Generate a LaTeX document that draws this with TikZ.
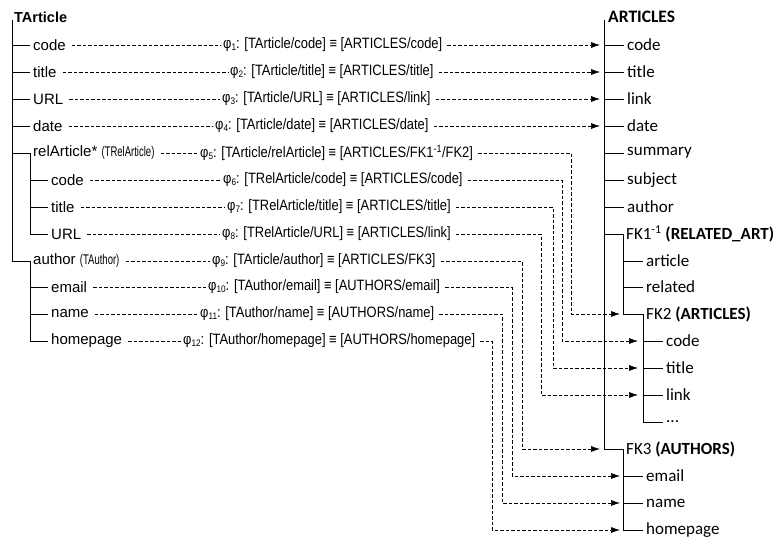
\documentclass[tikz,border=0pt]{standalone}
\usepackage{fontspec}
\setmainfont{Liberation Sans}
\newfontfamily\narrowf[FakeStretch=0.86]{Liberation Sans}
\newfontfamily\parenf[FakeStretch=0.68]{Liberation Sans}
\newfontfamily\calf{Carlito}
\usetikzlibrary{arrows.meta}
\newcommand\phisub[1]{φ{\fontsize{9.5}{9.5}\selectfont\raisebox{-1.5pt}{#1}}:}
\newcommand\paren[1]{{\parenf\fontsize{14}{16}\selectfont #1}}
\begin{document}
\begin{tikzpicture}[x=1pt,y=-1pt,
  tree/.style={line width=0.8pt},
  lab/.style={anchor=west,inner sep=3pt,font=\fontsize{15}{17}\selectfont},
  hdr/.style={anchor=west,inner sep=1pt,font=\bfseries\fontsize{14.5}{16}\selectfont},
  mid/.style={anchor=west,inner sep=2pt,font=\narrowf\fontsize{15}{17}\selectfont},
  rlab/.style={anchor=west,inner sep=3pt,font=\calf\fontsize{17}{19}\selectfont},
  rhdr/.style={anchor=west,inner sep=1pt,font=\calf\bfseries\fontsize{17.5}{19}\selectfont},
  dline/.style={dash pattern=on 3.5pt off 2pt, line width=0.6pt},
  link/.style={dline, -{Latex[length=9pt,width=6pt]}},
]
\useasboundingbox (0,0) rectangle (780,543);

% ---------- left tree ----------
\node[hdr] (ta) at (13,17) {TArticle};
\node[lab] (l1) at (30,45) {code};
\node[lab] (l2) at (30,72) {title};
\node[lab] (l3) at (30,99) {URL};
\node[lab] (l4) at (30,126) {date};
\node[lab] (l5) at (30,153) {relArticle* \paren{(TRelArticle)}};
\node[lab] (l6) at (48,180) {code};
\node[lab] (l7) at (48,207) {title};
\node[lab] (l8) at (48,234) {URL};
\node[lab] (l9) at (30,261) {author \paren{(TAuthor)}};
\node[lab] (l10) at (48,287) {email};
\node[lab] (l11) at (48,314) {name};
\node[lab] (l12) at (48,341) {homepage};

\coordinate (lt) at (12,20);
\draw[tree] (lt) |- (l9.west) -- (l9.west |- l12) -- (l12.west);
\foreach \i in {1,2,3,4,5} \draw[tree] (lt |- l\i) -- (l\i.west);
\draw[tree] (l5.west) -- (l5.west |- l8) -- (l8.west);
\foreach \i in {6,7} \draw[tree] (l5.west |- l\i) -- (l\i.west);
\foreach \i in {10,11} \draw[tree] (l9.west |- l\i) -- (l\i.west);

% ---------- mapping labels ----------
\node[mid] (m1) at (221,45) {\phisub{1} [TArticle/code] ≡ [ARTICLES/code]};
\node[mid] (m2) at (228,72) {\phisub{2} [TArticle/title] ≡ [ARTICLES/title]};
\node[mid] (m3) at (220,99) {\phisub{3} [TArticle/URL] ≡ [ARTICLES/link]};
\node[mid] (m4) at (213,126) {\phisub{4} [TArticle/date] ≡ [ARTICLES/date]};
\node[mid] (m5) at (198,153) {\phisub{5} [TArticle/relArticle] ≡ [ARTICLES/FK1\textsuperscript{-1}/FK2]};
\node[mid] (m6) at (221,180) {\phisub{6} [TRelArticle/code] ≡ [ARTICLES/code]};
\node[mid] (m7) at (225,207) {\phisub{7} [TRelArticle/title] ≡ [ARTICLES/title]};
\node[mid] (m8) at (220,234) {\phisub{8} [TRelArticle/URL] ≡ [ARTICLES/link]};
\node[mid] (m9) at (210,261) {\phisub{9} [TArticle/author] ≡ [ARTICLES/FK3]};
\node[mid] (m10) at (206,287) {\phisub{10} [TAuthor/email] ≡ [AUTHORS/email]};
\node[mid] (m11) at (198,314) {\phisub{11} [TAuthor/name] ≡ [AUTHORS/name]};
\node[mid] (m12) at (181,341) {\phisub{12} [TAuthor/homepage] ≡ [AUTHORS/homepage]};

\foreach \i in {1,...,12} \draw[dline, shorten <=3pt] (l\i.east) -- (m\i.west);

% ---------- right tree ----------
\node[rhdr] (ar) at (607,17) {ARTICLES};
\node[rlab] (r1) at (624,45) {code};
\node[rlab] (r2) at (624,72) {title};
\node[rlab] (r3) at (624,99) {link};
\node[rlab] (r4) at (624,126) {date};
\node[rlab] (r5) at (624,153) {summary};
\node[rlab] (r6) at (624,180) {subject};
\node[rlab] (r7) at (624,207) {author};
\node[rlab] (fk1) at (623,234) {FK1\textsuperscript{-1} \textbf{(RELATED\_ART)}};
\node[rlab] (r9) at (643,261) {article};
\node[rlab] (r10) at (643,287) {related};
\node[rlab] (fk2) at (643,314) {FK2 \textbf{(ARTICLES)}};
\node[rlab] (c1) at (663,341) {code};
\node[rlab] (c2) at (663,368) {title};
\node[rlab] (c3) at (663,395) {link};
\node[rlab] (c4) at (663,422) {...};
\node[rlab] (fk3) at (623,449) {FK3 \textbf{(AUTHORS)}};
\node[rlab] (a1) at (643,476) {email};
\node[rlab] (a2) at (643,503) {name};
\node[rlab] (a3) at (643,530) {homepage};

\coordinate (rt) at (604,20);
\coordinate (v1) at (623,0);
\coordinate (v2) at (643,0);
\draw[tree] (rt) |- (fk3.west) -- (fk3.west |- a3) -- (a3.west);
\foreach \n in {r1,r2,r3,r4,r5,r6,r7} \draw[tree] (rt |- \n) -- (\n.west);
\draw[tree] (rt |- fk1) -- (v1 |- fk1) -- (v1 |- fk2) -- (fk2.west);
\foreach \n in {r9,r10} \draw[tree] (v1 |- \n) -- (\n.west);
\draw[tree] (v1 |- fk2) -- (v2 |- fk2) -- (v2 |- c4) -- (c4.west);
\foreach \n in {c1,c2,c3} \draw[tree] (v2 |- \n) -- (\n.west);
\foreach \n in {a1,a2} \draw[tree] (v1 |- \n) -- (\n.west);

% ---------- mapping arrows ----------
\coordinate (k5) at (571,0);
\coordinate (k6) at (562,0);
\coordinate (k7) at (553,0);
\coordinate (k8) at (541,0);
\coordinate (k9) at (522,0);
\coordinate (k10) at (512,0);
\coordinate (k11) at (502,0);
\coordinate (k12) at (492,0);

\draw[link, shorten <=3pt, shorten >=4pt] (m1.east) -- (rt |- r1);
\draw[link, shorten <=3pt, shorten >=4pt] (m2.east) -- (rt |- r2);
\draw[link, shorten <=3pt, shorten >=4pt] (m3.east) -- (rt |- r3);
\draw[link, shorten <=3pt, shorten >=4pt] (m4.east) -- (rt |- r4);
\draw[link, shorten <=3pt, shorten >=3pt] (m5.east) -- (m5.east -| k5) |- (v1 |- fk2);
\draw[link, shorten <=3pt, shorten >=5pt] (m6.east) -- (m6.east -| k6) |- (v2 |- c1);
\draw[link, shorten <=3pt, shorten >=5pt] (m7.east) -- (m7.east -| k7) |- (v2 |- c2);
\draw[link, shorten <=3pt, shorten >=5pt] (m8.east) -- (m8.east -| k8) |- (v2 |- c3);
\draw[link, shorten <=3pt, shorten >=4pt] (m9.east) -- (m9.east -| k9) |- (rt |- fk3);
\draw[link, shorten <=3pt, shorten >=3pt] (m10.east) -- (m10.east -| k10) |- (v1 |- a1);
\draw[link, shorten <=3pt, shorten >=3pt] (m11.east) -- (m11.east -| k11) |- (v1 |- a2);
\draw[link, shorten <=3pt, shorten >=3pt] (m12.east) -- (m12.east -| k12) |- (v1 |- a3);
\end{tikzpicture}
\end{document}
